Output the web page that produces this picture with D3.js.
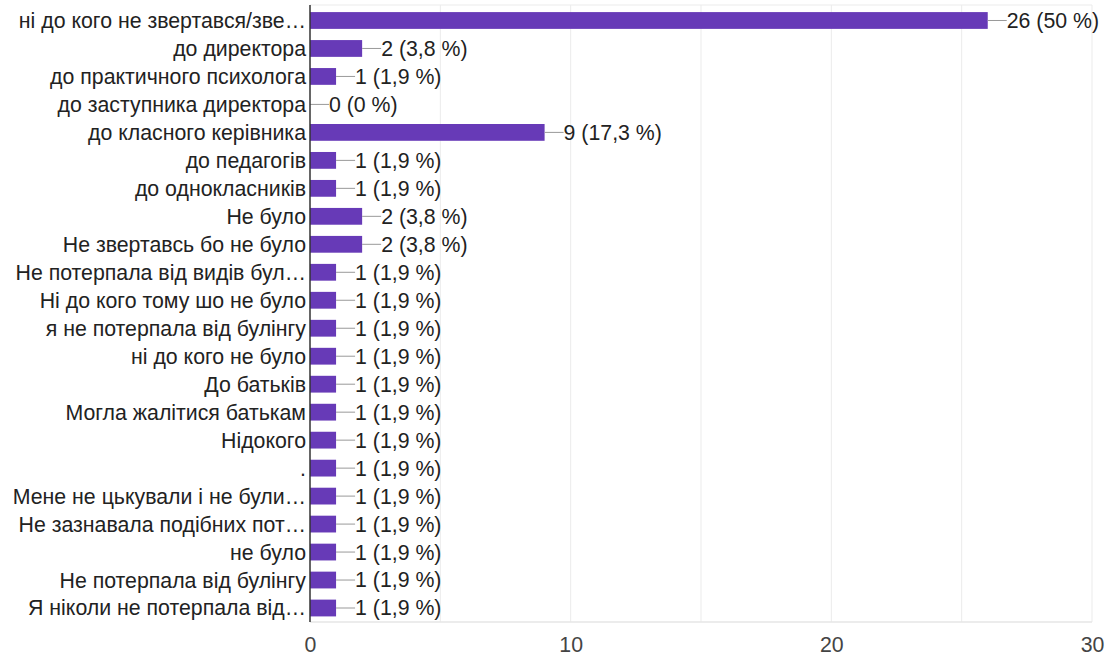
<!DOCTYPE html>
<html><head><meta charset="utf-8">
<script src="https://cdn.jsdelivr.net/npm/d3@7"></script>
<style>body{margin:0;background:#fff;} text{font-family:"Liberation Sans", Arial, sans-serif;}</style>
</head><body>
<svg id="c" width="1107" height="656"></svg>
<script>
const categories = [
  "ні до кого не звертався/зве…",
  "до директора",
  "до практичного психолога",
  "до заступника директора",
  "до класного керівника",
  "до педагогів",
  "до однокласників",
  "Не було",
  "Не звертавсь бо не було",
  "Не потерпала від видів бул…",
  "Ні до кого тому шо не було",
  "я не потерпала від булінгу",
  "ні до кого не було",
  "До батьків",
  "Могла жалітися батькам",
  "Нідокого",
  ".",
  "Мене не цькували і не були…",
  "Не зазнавала подібних пот…",
  "не було",
  "Не потерпала від булінгу",
  "Я ніколи не потерпала від…"
];
const counts = [26,2,1,0,9,1,1,2,2,1,1,1,1,1,1,1,1,1,1,1,1,1];
const percents = ["50","3,8","1,9","0","17,3","1,9","1,9","3,8","3,8","1,9","1,9","1,9","1,9","1,9","1,9","1,9","1,9","1,9","1,9","1,9","1,9","1,9"];
const xTicks = [0,10,20,30];
const gridTicks = [5,10,15,20,25,30];

const FONT = "'Liberation Sans', Arial, sans-serif";
const FS = 21.3;
const svg = d3.select("#c");
const x = d3.scaleLinear().domain([0,30]).range([310,1092]);
const y = d3.scaleBand().domain(categories).range([6.5,622]).paddingInner(0.4).paddingOuter(0.2);

// grid
svg.append("g").selectAll("line").data(gridTicks).join("line")
  .attr("x1", d=>x(d)).attr("x2", d=>x(d)).attr("y1",5).attr("y2",622)
  .attr("stroke","#ebebeb").attr("stroke-width",1);
svg.append("line").attr("x1",310).attr("x2",x(30)).attr("y1",5).attr("y2",5).attr("stroke","#ebebeb");
svg.append("line").attr("x1",310).attr("x2",x(30)).attr("y1",622).attr("y2",622).attr("stroke","#e6e6e6").attr("stroke-width",1.5);

// bars
svg.append("g").selectAll("rect").data(categories).join("rect")
  .attr("x", x(0)).attr("y", d=>y(d))
  .attr("width", (d,i)=>x(counts[i])-x(0)).attr("height", y.bandwidth())
  .attr("fill","#673ab7");

// connectors and value labels
svg.append("g").selectAll("line").data(categories).join("line")
  .attr("x1",(d,i)=>x(counts[i])).attr("x2",(d,i)=>x(counts[i])+19)
  .attr("y1",d=>y(d)+y.bandwidth()/2).attr("y2",d=>y(d)+y.bandwidth()/2)
  .attr("stroke","#999").attr("stroke-width",1);
svg.append("g").selectAll("text").data(categories).join("text")
  .attr("x",(d,i)=>x(counts[i])+19).attr("y",d=>y(d)+y.bandwidth()/2)
  .attr("dy","0.35em").attr("font-size",FS).attr("fill","#222")
  .attr("font-family",FONT)
  .text((d,i)=>`${counts[i]} (${percents[i]} %)`);

// y axis
const yAxis = d3.axisLeft(y).tickSize(0).tickPadding(4);
const gy = svg.append("g").attr("transform","translate(310,0)").call(yAxis);
gy.select(".domain").remove();
gy.selectAll("text").attr("font-size",FS).attr("fill","#222").attr("font-family",FONT).attr("dy","0.35em");
svg.append("line").attr("x1",310).attr("x2",310).attr("y1",5).attr("y2",622).attr("stroke","#333").attr("stroke-width",1.5);

// x axis
const xAxis = d3.axisBottom(x).tickValues(xTicks).tickSize(0).tickPadding(0);
const gx = svg.append("g").attr("transform","translate(0,652)").call(xAxis);
gx.select(".domain").remove();
gx.selectAll("text").attr("font-size",FS).attr("fill","#444").attr("font-family",FONT).attr("dy","0").attr("y",0);
</script>
</body></html>
